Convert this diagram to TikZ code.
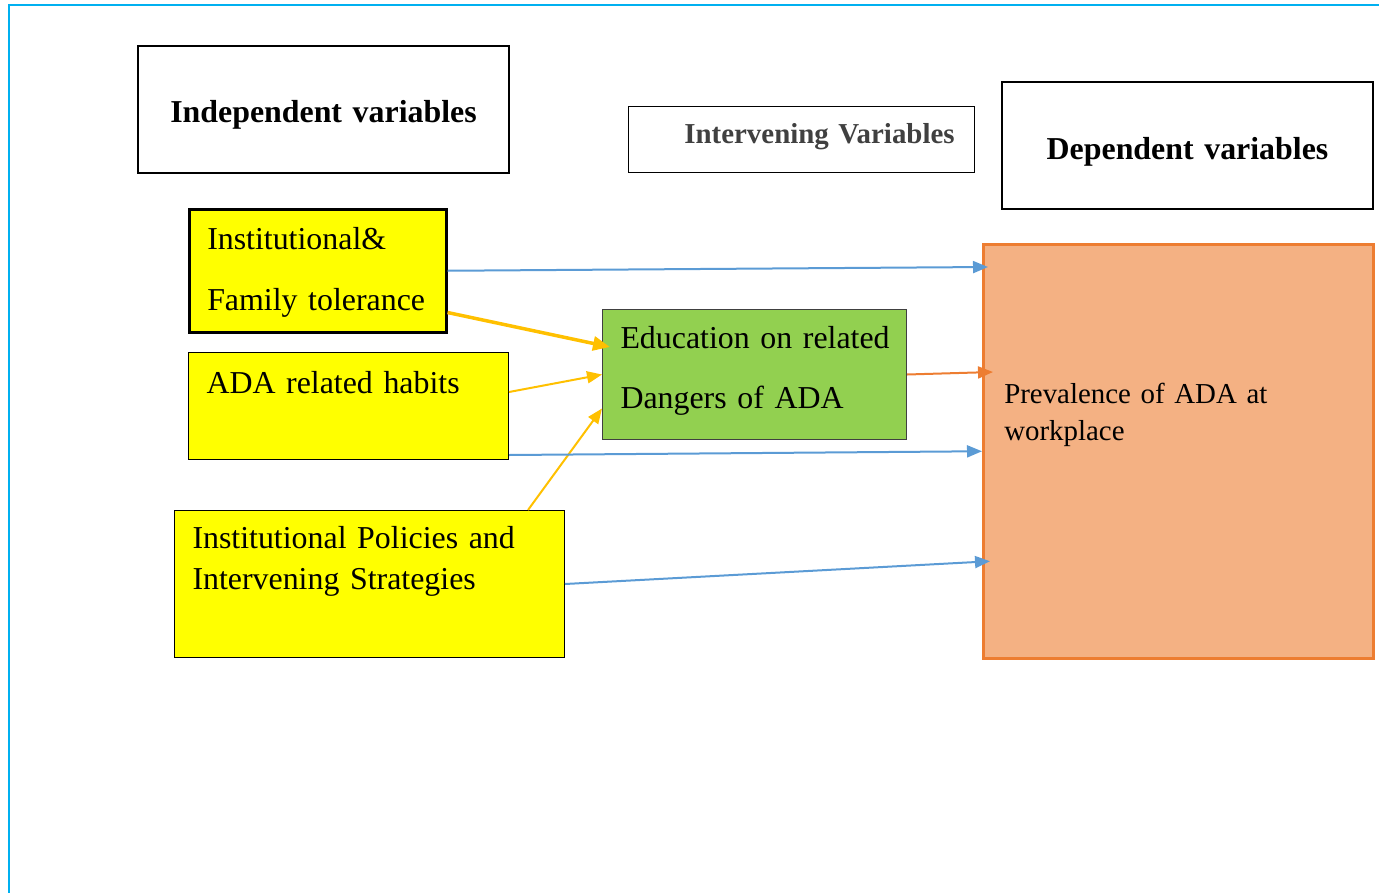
\documentclass[tikz,border=0pt]{standalone}
\usepackage{fontspec}
\setmainfont{Liberation Serif}
\usetikzlibrary{arrows.meta}
\definecolor{framecol}{HTML}{00B0F0}
\definecolor{arrblue}{HTML}{5B9BD5}
\definecolor{arryel}{HTML}{FFC000}
\definecolor{arrorg}{HTML}{ED7D31}
\definecolor{boxyellow}{HTML}{FFFF00}
\definecolor{boxgreen}{HTML}{92D050}
\definecolor{boxpeach}{HTML}{F4B183}
\definecolor{headgray}{HTML}{404040}

\begin{document}
\begin{tikzpicture}[x=1bp,y=-1bp,>={Triangle[length=15bp,width=12bp]},
  cell/.style={draw,anchor=north west,inner ysep=0pt,inner xsep=18bp,align=left},
  head/.style={cell,line width=2bp,inner xsep=0pt,align=center,font=\fontsize{32}{38}\selectfont\bfseries},
  flow/.style={->,line width=2bp}]
\useasboundingbox (0,0) rectangle (1379,892);
\draw[framecol,line width=2bp] (9,900) -- (9,5) -- (1390,5);

% headings
\node (indep) [head,text width=371bp,text height=76bp,text depth=51bp] at (137,45) {Independent variables};
\node (interv) [head,line width=1.2bp,text width=306bp,inner xsep=20bp,align=right,text height=37bp,text depth=29bp,
  text=headgray,font=\fontsize{29}{35}\selectfont\bfseries] at (628,106) {Intervening Variables};
\node (dep) [head,text width=371bp,text height=77bp,text depth=50bp] at (1001,81) {Dependent variables};

% variables
\node (fam) [cell,fill=boxyellow,line width=2.5bp,text width=221bp,text height=40bp,text depth=83bp,
  font=\fontsize{32}{61}\selectfont] at (188,208) {Institutional\&\\Family tolerance};
\node (ada) [cell,fill=boxyellow,line width=1bp,text width=284bp,text height=41bp,text depth=66bp,
  font=\fontsize{32}{38}\selectfont] at (188,352) {ADA related habits};
\node (pol) [cell,fill=boxyellow,line width=1bp,text width=354bp,text height=38bp,text depth=109bp,
  font=\fontsize{32}{41}\selectfont] at (174,510) {Institutional Policies and\\Intervening Strategies};
\node (edu) [cell,fill=boxgreen,draw=headgray,line width=1bp,text width=268bp,text height=39bp,text depth=91bp,
  font=\fontsize{32}{60}\selectfont] at (602,309) {\mbox{Education on related}\\Dangers of ADA};
\node (prev) [cell,fill=boxpeach,draw=arrorg,line width=2.5bp,inner xsep=21bp,text width=348bp,text height=159bp,text depth=255bp,
  font=\fontsize{29}{37}\selectfont] at (982,243) {Prevalence of ADA at\\workplace};

% links
\draw[flow,arrblue] (fam.east) -- ([xshift=6bp,yshift=-24bp]prev.north west);
\draw[->,arryel,line width=3.5bp,>={Triangle[length=17bp,width=14bp]}] ([yshift=21bp]fam.south east) -- ([xshift=8bp,yshift=-38bp]edu.north west);
\draw[flow,arryel] ([yshift=14bp]ada.east) -- (edu.west);
\draw[flow,arryel] ([xshift=-37bp]pol.north east) -- ([yshift=-34bp]edu.west);
\draw[flow,arrorg] (edu.east) -- ([xshift=11bp,yshift=-129bp]prev.north west);
\draw[flow,arrblue] ([yshift=5bp]ada.south east) -- (prev.west);
\draw[flow,arrblue] (pol.east) -- ([xshift=8bp,yshift=-110bp]prev.west);
\end{tikzpicture}
\end{document}
